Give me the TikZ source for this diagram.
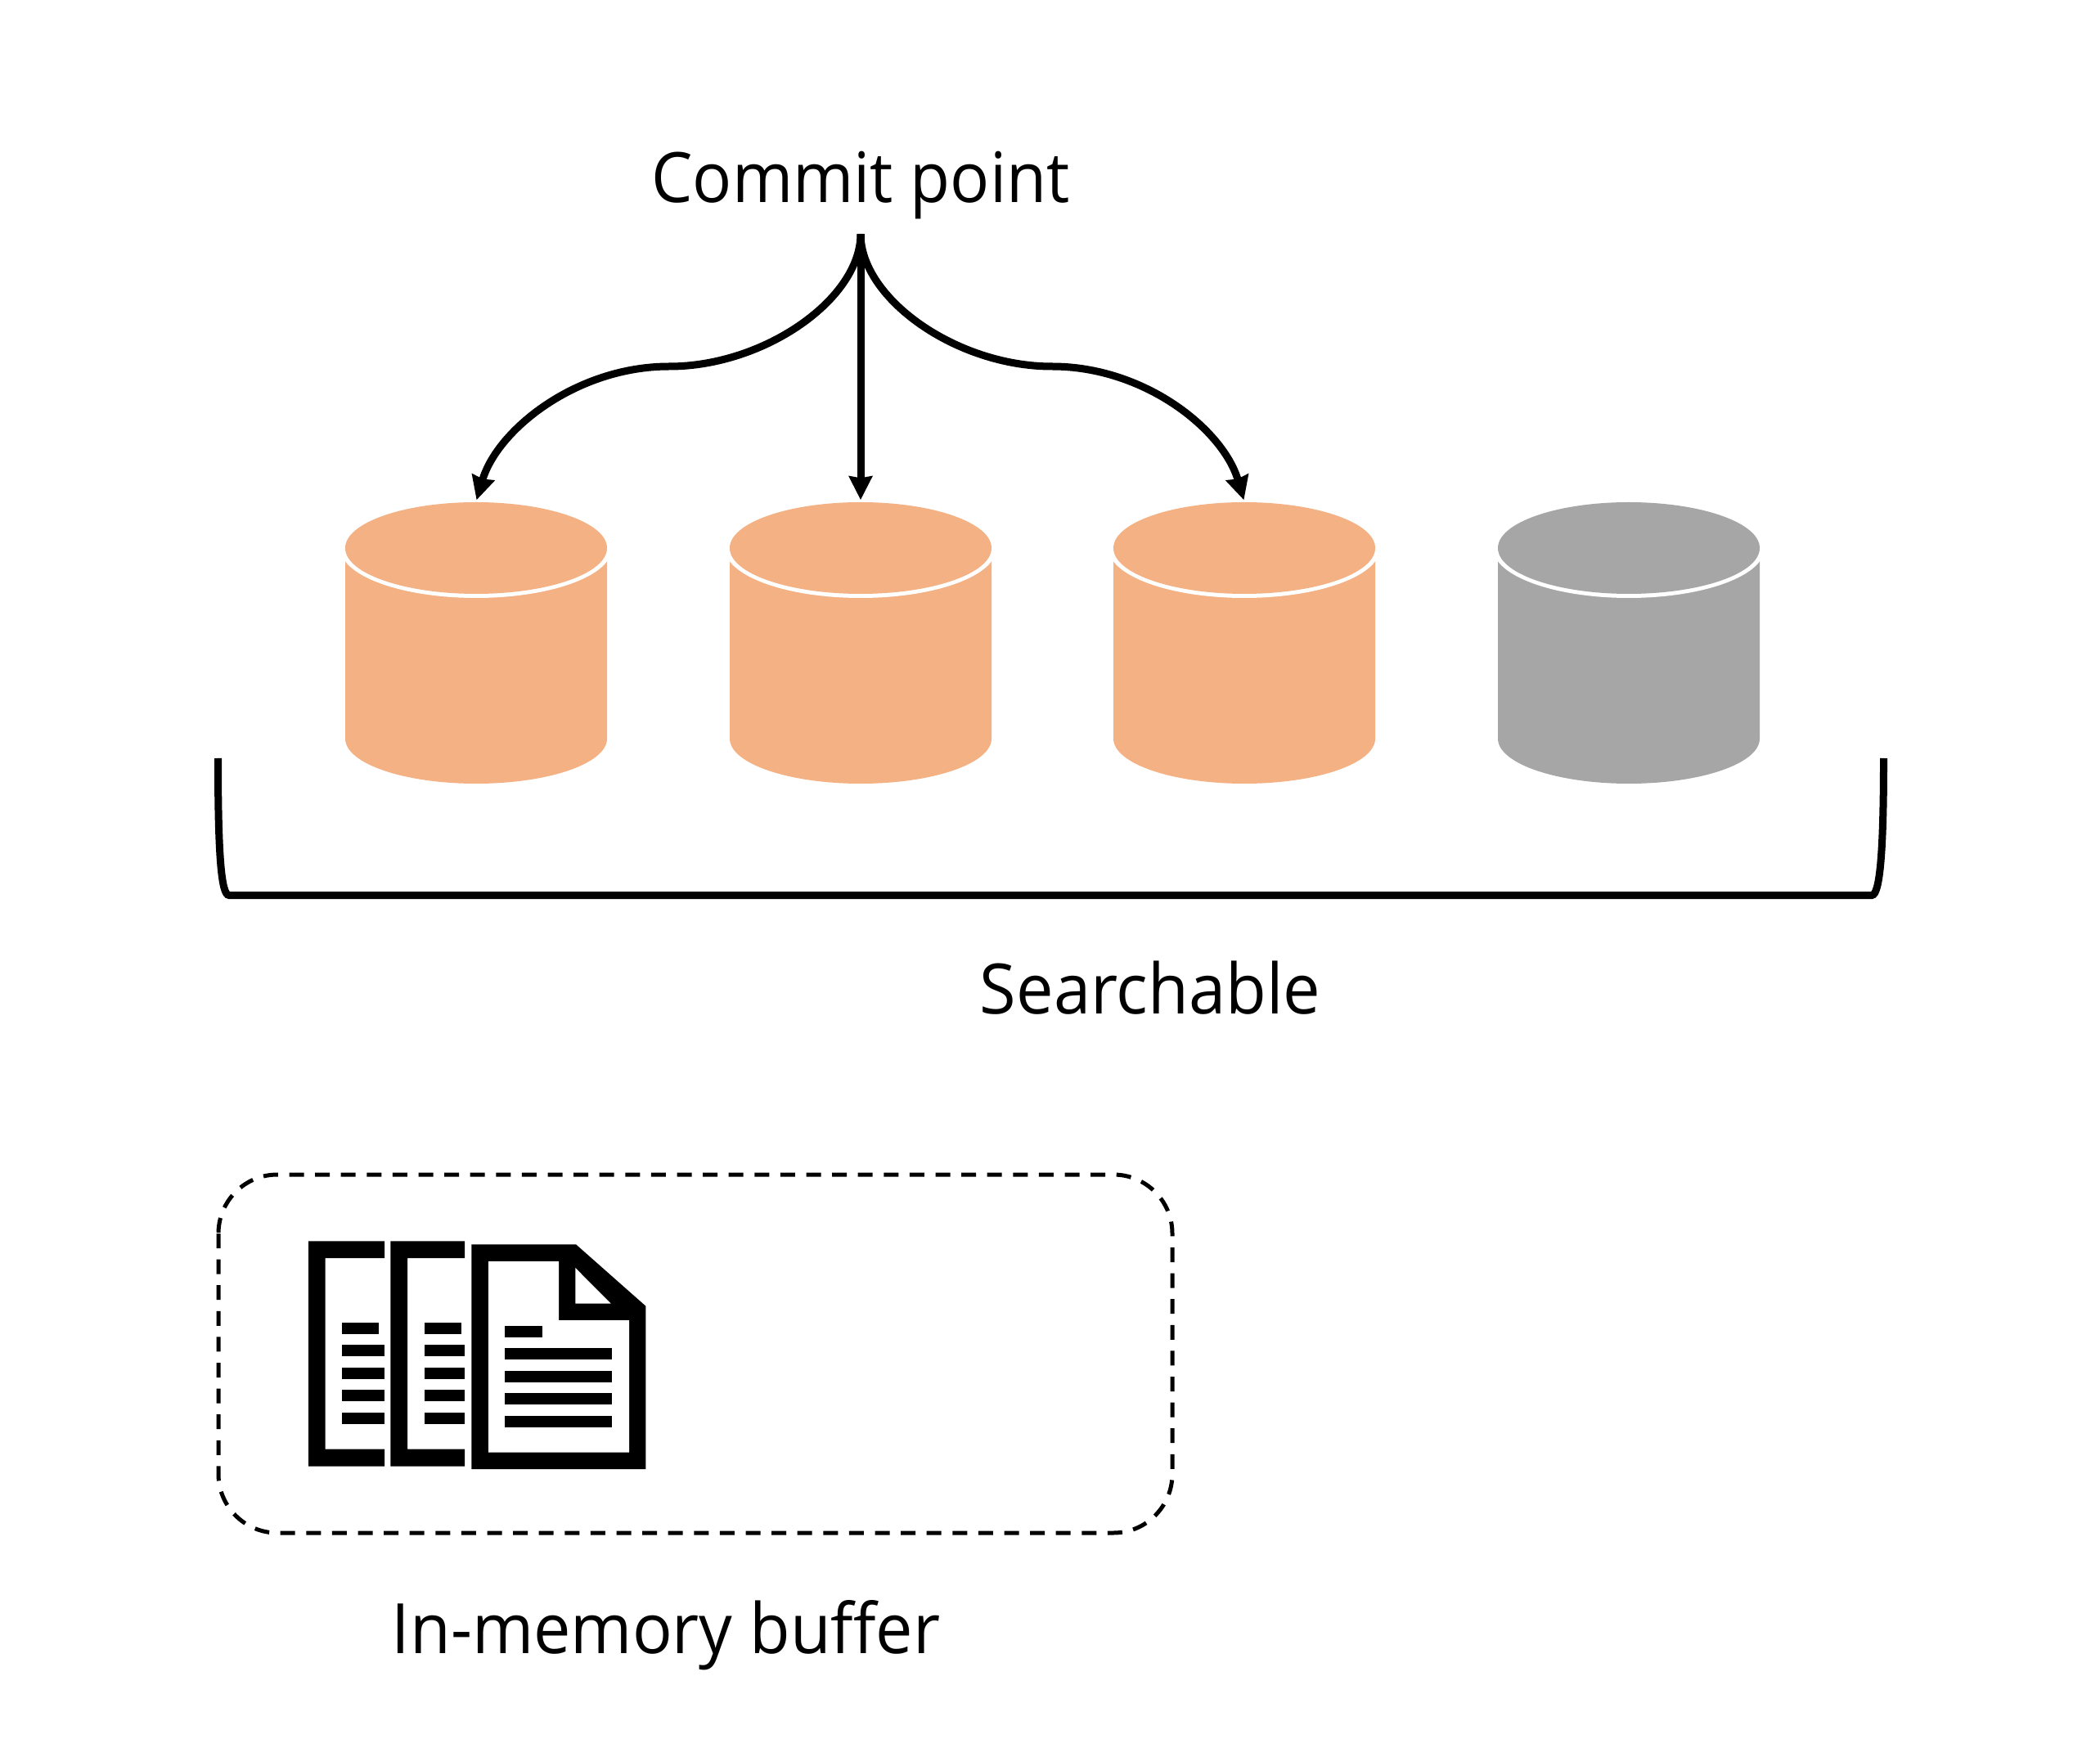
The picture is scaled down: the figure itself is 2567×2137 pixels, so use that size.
\documentclass[tikz,border=0pt]{standalone}
\usepackage{fontspec}
\setmainfont[Ligatures=NoCommon]{Open Sans}
\usetikzlibrary{arrows.meta}
\definecolor{seg}{HTML}{F4B183}
\definecolor{seggray}{HTML}{A6A6A6}
\tikzset{
  x=0.25pt,y=-0.25pt,
  link/.style={line width=2.25pt,-{Stealth[length=7.2pt,width=7pt,inset=0.5pt]},shorten >=0.5pt},
  bracketline/.style={line width=2.25pt},
  bufferbox/.style={line width=1.25pt,dash pattern=on 4.5pt off 3.4pt},
  label/.style={font=\fontsize{21.25pt}{26pt}\selectfont,anchor=base,inner sep=0pt},
  icon/.style={fill=black,draw=none},
  blank/.style={fill=white,draw=none},
  cylbox/.style={inner sep=0pt,minimum width=80pt,minimum height=86pt}
}
\newcommand{\segcyl}[3]{%
  \fill[#3] (#2-160,685) -- (#2-160,903) arc[start angle=180,end angle=0,x radius=160,y radius=55] -- (#2+160,685) -- cycle;
  \fill[white] (#2,670) ellipse[x radius=166,y radius=61];
  \fill[#3] (#2,670) ellipse[x radius=160,y radius=56];
  \node[cylbox] (#1) at (#2,786) {};
}
\newcommand{\sidedoc}[2]{%
  \begin{scope}[xshift=#1*0.25pt]
    \fill[icon] (377,1517.3) -- (#2,1517.3) -- (#2,1538) -- (397.7,1538) -- (397.7,1771.7) -- (#2,1771.7) -- (#2,1792.7) -- (377,1792.7) -- cycle;
    \fill[icon] (418.3,1617) rectangle (463.3,1631);
    \fill[icon] (418.3,1644.3) rectangle (#2,1658.3);
    \fill[icon] (418.3,1672) rectangle (#2,1686);
    \fill[icon] (418.3,1699.3) rectangle (#2,1713.3);
    \fill[icon] (418.3,1727) rectangle (#2,1741);
  \end{scope}
}
\begin{document}
\begin{tikzpicture}
\useasboundingbox (0,0) rectangle (2567,2137);
% labels
\node[label] (commit) at (1052,248) {\addfontfeatures{FakeStretch=0.94}Commit point};
\node[label] (search) at (1406,1239) {\addfontfeatures{FakeStretch=0.955}Searchable};
\node[label] (buffer) at (814,2021) {\addfontfeatures{FakeStretch=0.952}In-memory buffer};
% cylinders
\segcyl{c1}{582}{seg}
\segcyl{c2}{1052}{seg}
\segcyl{c3}{1521}{seg}
\segcyl{c4}{1991}{seggray}
% connectors
\coordinate (fork) at (1052,286);
\coordinate (midl) at (818,448);
\coordinate (midr) at (1286,448);
\draw[link] (fork) .. controls (1052,365) and (935,448) .. (midl) .. controls (705,448) and (608,525) .. (c1.north);
\draw[link] (fork) -- (c2.north);
\draw[link] (fork) .. controls (1052,365) and (1169,448) .. (midr) .. controls (1399,448) and (1495,525) .. (c3.north);
% bracket
\draw[bracketline] (266.5,927) .. controls (266.5,1040) and (270,1094.5) .. (280,1094.5) -- (2288,1094.5) .. controls (2298,1094.5) and (2302.5,1040) .. (2302.5,927);
% buffer box
\draw[bufferbox,rounded corners=18pt] (267,1436) rectangle (1433,1874);
% documents
\sidedoc{0}{470}
\sidedoc{100.3}{467.7}
\fill[icon] (576.3,1521.3) -- (704,1521.3) -- (789.3,1596.7) -- (789.3,1796) -- (576.3,1796) -- cycle;
\fill[blank] (597,1542) -- (683,1542) -- (683,1614) -- (769,1614) -- (769,1775.7) -- (597,1775.7) -- cycle;
\fill[blank] (703.3,1550) -- (746.7,1593.7) -- (703.3,1593.7) -- cycle;
\fill[icon] (617.3,1621) rectangle (662.7,1635);
\fill[icon] (617.3,1648.3) rectangle (748.3,1662.3);
\fill[icon] (617.3,1676) rectangle (748.3,1690);
\fill[icon] (617.3,1703.3) rectangle (748.3,1717.3);
\fill[icon] (617.3,1731) rectangle (748.3,1745);
\end{tikzpicture}
\end{document}
